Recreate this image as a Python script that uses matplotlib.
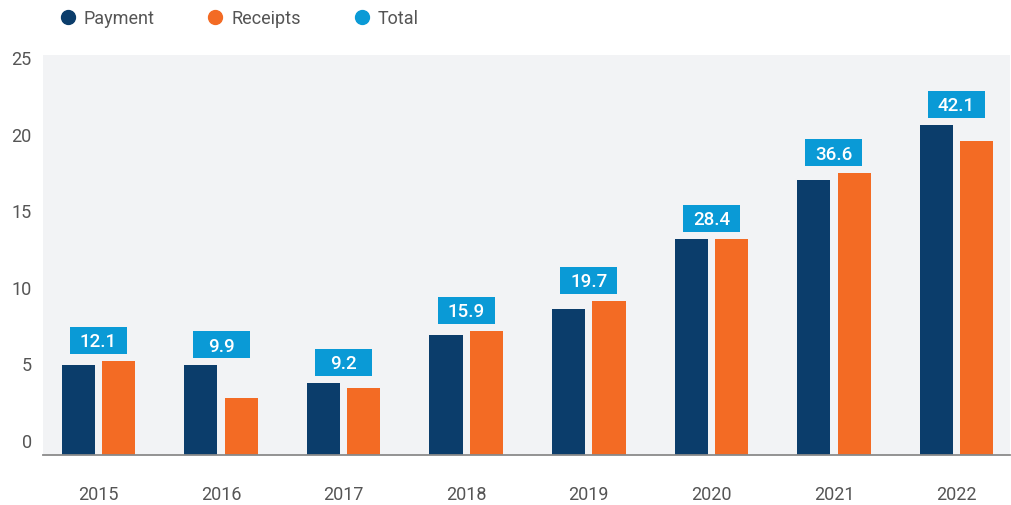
import numpy as np
import matplotlib
matplotlib.use("Agg")
import matplotlib.pyplot as plt
from matplotlib.lines import Line2D
from matplotlib.patches import Rectangle
from matplotlib.transforms import ScaledTranslation

plt.rcParams["font.family"] = ["Roboto", "DejaVu Sans"]

years = ["2015", "2016", "2017", "2018", "2019", "2020", "2021", "2022"]
payment = [5.9, 5.85, 4.7, 7.8, 9.55, 14.1, 17.95, 21.55]
receipts = [6.15, 3.7, 4.4, 8.1, 10.05, 14.1, 18.4, 20.5]
total = [12.1, 9.9, 9.2, 15.9, 19.7, 28.4, 36.6, 42.1]

NAVY = "#0B3D6B"
ORANGE = "#F36B24"
BLUE = "#0A9AD6"
GREY_TXT = "#555555"

fig = plt.figure(figsize=(10.11, 5.05), dpi=100)
ax = fig.add_axes([0.0425, 0.099, 0.957, 0.792])
ax.set_facecolor("#F2F3F5")

x = np.arange(len(years))
w = 0.27
off = 0.165
ax.bar(x - off, payment, w, color=NAVY, zorder=2)
ax.bar(x + off, receipts, w, color=ORANGE, zorder=2)

# total value boxes above each pair
bw, bh, gap = 0.465, 1.76, 0.46
for i, t in enumerate(total):
    top = max(payment[i], receipts[i])
    ax.add_patch(Rectangle((i - bw / 2, top + gap), bw, bh, color=BLUE, zorder=3, lw=0))
    ax.text(i, top + gap + bh / 2, f"{t:.1f}", color="white", fontsize=13.5,
            fontweight="medium", ha="center", va="center_baseline", zorder=4)

ax.set_xlim(-0.453, 7.44)
ax.set_ylim(0, 26.1)
ax.set_xticks(x)
ax.set_xticklabels(years)
ax.set_yticks(np.arange(0, 26, 5))
ax.tick_params(axis="x", length=0, pad=22.5, labelsize=13, labelcolor=GREY_TXT)
ax.tick_params(axis="y", length=0, pad=8, labelsize=13, labelcolor=GREY_TXT)
shift = ScaledTranslation(0, 0.14, fig.dpi_scale_trans)
for lab in ax.get_yticklabels():
    lab.set_transform(lab.get_transform() + shift)

for sp in ("top", "right", "left"):
    ax.spines[sp].set_visible(False)
ax.spines["bottom"].set_color("#8A8A8A")
ax.spines["bottom"].set_linewidth(1.3)

handles = [Line2D([], [], ls="none", marker="o", ms=10, color=c)
           for c in (NAVY, ORANGE, BLUE)]
leg = fig.legend(handles, ["Payment", "Receipts", "Total"], loc="center left",
                 bbox_to_anchor=(0.058, 0.963), ncol=3, frameon=False,
                 fontsize=13, handletextpad=0.4, columnspacing=2.85,
                 handlelength=1.0, borderaxespad=0, borderpad=0)
for t in leg.get_texts():
    t.set_color(GREY_TXT)

fig.savefig("out.png", dpi=100)
